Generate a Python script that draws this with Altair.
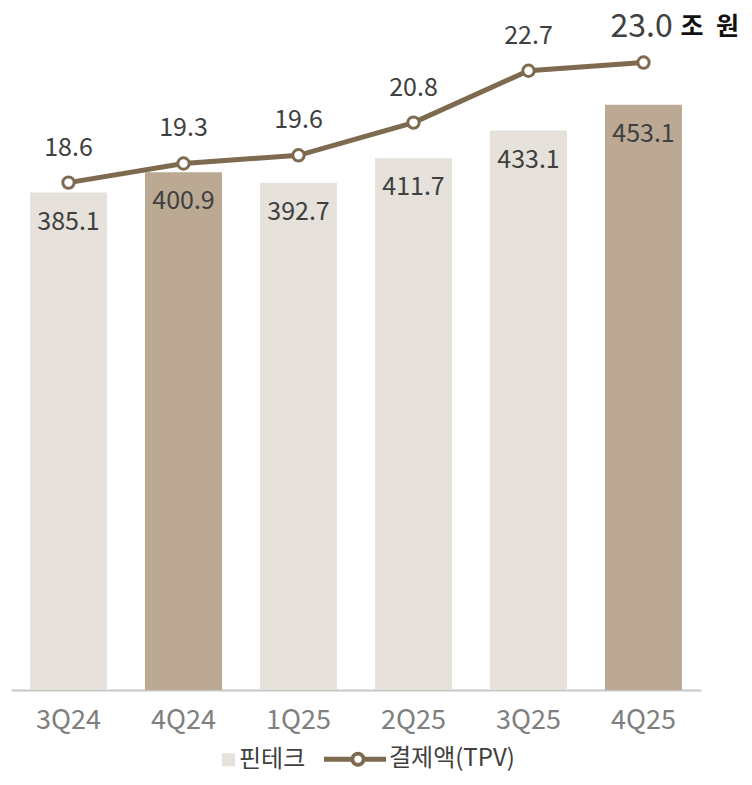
import math
import altair as alt
import pandas as pd

quarters = ["3Q24", "4Q24", "1Q25", "2Q25", "3Q25", "4Q25"]
fintech = [385.1, 400.9, 392.7, 411.7, 433.1, 453.1]
tpv = [18.6, 19.3, 19.6, 20.8, 22.7, 23.0]
highlight = [False, True, False, False, False, True]
bar_series = "핀테크"
line_series = "결제액(TPV)"
unit = "조 원"

LIGHT = "#E6E1DA"
DARK = "#BBA994"
BROWN = "#7D6A4F"
FONT = "Noto Sans CJK KR"

n = len(quarters)
df = pd.DataFrame({
    "quarter": quarters,
    "fintech": fintech,
    "tpv": tpv,
    "key": ["강조" if h else bar_series for h in highlight],
    "fintech_label": [f"{v:.1f}" for v in fintech],
    "tpv_label": [f"{v:.1f}" for v in tpv],
    "is_last": [i == n - 1 for i in range(n)],
    "unit": [unit] * n,
})

x = alt.X("quarter:N", sort=quarters, title=None,
          scale=alt.Scale(paddingInner=0.33, paddingOuter=0.165),
          axis=alt.Axis(labelAngle=0, labelFont=FONT, labelFontSize=27, labelColor="#7F7F7F",
                        domainColor="#C8C8C8", domainWidth=2, ticks=False, labelPadding=17,
                        grid=False))


# legend symbol shapes (unit = 10 px at symbolSize 400); filled only, ring via opposite winding
def ring(cx, r, clockwise, k=28):
    pts = []
    for i in range(k):
        a = 2 * math.pi * i / k * (1 if clockwise else -1)
        pts.append(f"{cx + r * math.cos(a):.3f},{r * math.sin(a):.3f}")
    return "M" + "L".join(pts) + "Z"


CX = 2.4
SQUARE_PATH = "M3.8,-0.65L5.1,-0.65L5.1,0.65L3.8,0.65Z"
LINE_PATH = (f"M-1,-0.25L{CX - 0.6},-0.25L{CX - 0.6},0.25L-1,0.25Z"
             f"M{CX + 0.6},-0.25L5.2,-0.25L5.2,0.25L{CX + 0.6},0.25Z"
             + ring(CX, 0.75, True) + ring(CX, 0.37, False))
FILL_EXPR = f"datum.value === '{bar_series}' ? '{LIGHT}' : '{BROWN}'"

legend = alt.Legend(
    title=None, orient="none", direction="horizontal", legendX=161, legendY=739,
    values=[bar_series, line_series],
    labelFont=FONT, labelFontSize=24, labelColor="#404040",
    symbolSize=400, columnPadding=10, labelOffset=43,
    symbolFillColor={"expr": FILL_EXPR},
    symbolStrokeColor="transparent",
    symbolStrokeWidth=4,
    symbolOpacity=1,
)

ybar = alt.Y("fintech:Q", scale=alt.Scale(domain=[0, 528], nice=False, zero=True), axis=None)
bars = alt.Chart(df).mark_bar().encode(
    x=x, y=ybar,
    color=alt.Color("key:N", scale=alt.Scale(domain=[bar_series, "강조"], range=[LIGHT, DARK]),
                    legend=None),
)
bar_labels = alt.Chart(df).mark_text(dy=29, font=FONT, fontSize=25, color="#404040").encode(
    x=x, y=ybar, text="fintech_label:N")
bar_layer = alt.layer(bars, bar_labels)

yline = alt.Y("tpv:Q", scale=alt.Scale(domain=[0, 25], nice=False, zero=True), axis=None)
line = alt.Chart(df).mark_line(strokeWidth=5, color=BROWN).encode(x=x, y=yline)
points = alt.Chart(df).mark_point(filled=True, fill="white", stroke=BROWN, strokeWidth=3,
                                  size=130, opacity=1).encode(x=x, y=yline)
legend_keys = alt.Chart(df).transform_calculate(lkey="datum.key").transform_filter("false").mark_point(
    filled=True, fill={"expr": FILL_EXPR}, stroke="transparent",
    strokeWidth=4, opacity=1).encode(
    x=x, y=yline,
    shape=alt.Shape("lkey:N", scale=alt.Scale(domain=[bar_series, line_series],
                                              range=[SQUARE_PATH, LINE_PATH]), legend=legend))
tpv_labels = alt.Chart(df).transform_filter("!datum.is_last").mark_text(
    dy=-35, font=FONT, fontSize=25, color="#404040").encode(x=x, y=yline, text="tpv_label:N")
last_label = alt.Chart(df).transform_filter("datum.is_last").mark_text(
    dy=-36, dx=-33, align="left", font=FONT, fontSize=32, color="#404040").encode(
    x=x, y=yline, text="tpv_label:N")
last_unit = alt.Chart(df).transform_filter("datum.is_last").transform_calculate(
    u="replace(datum.unit, ' ', '\u2002')").mark_text(
    dy=-36, dx=37, align="left", font=FONT, fontSize=25, fontWeight="bold", color="#111111").encode(
    x=x, y=yline, text="u:N")
line_layer = alt.layer(line, points, legend_keys, tpv_labels, last_label, last_unit)

chart = alt.layer(bar_layer, line_layer).resolve_scale(y="independent").properties(
    width=690, height=682,
    autosize=alt.AutoSizeParams(type="none"),
    padding={"left": 3, "top": 0, "right": 43, "bottom": 83},
).configure_view(stroke=None)

chart.save("out.html", embed_options={"renderer": "svg", "actions": False})
